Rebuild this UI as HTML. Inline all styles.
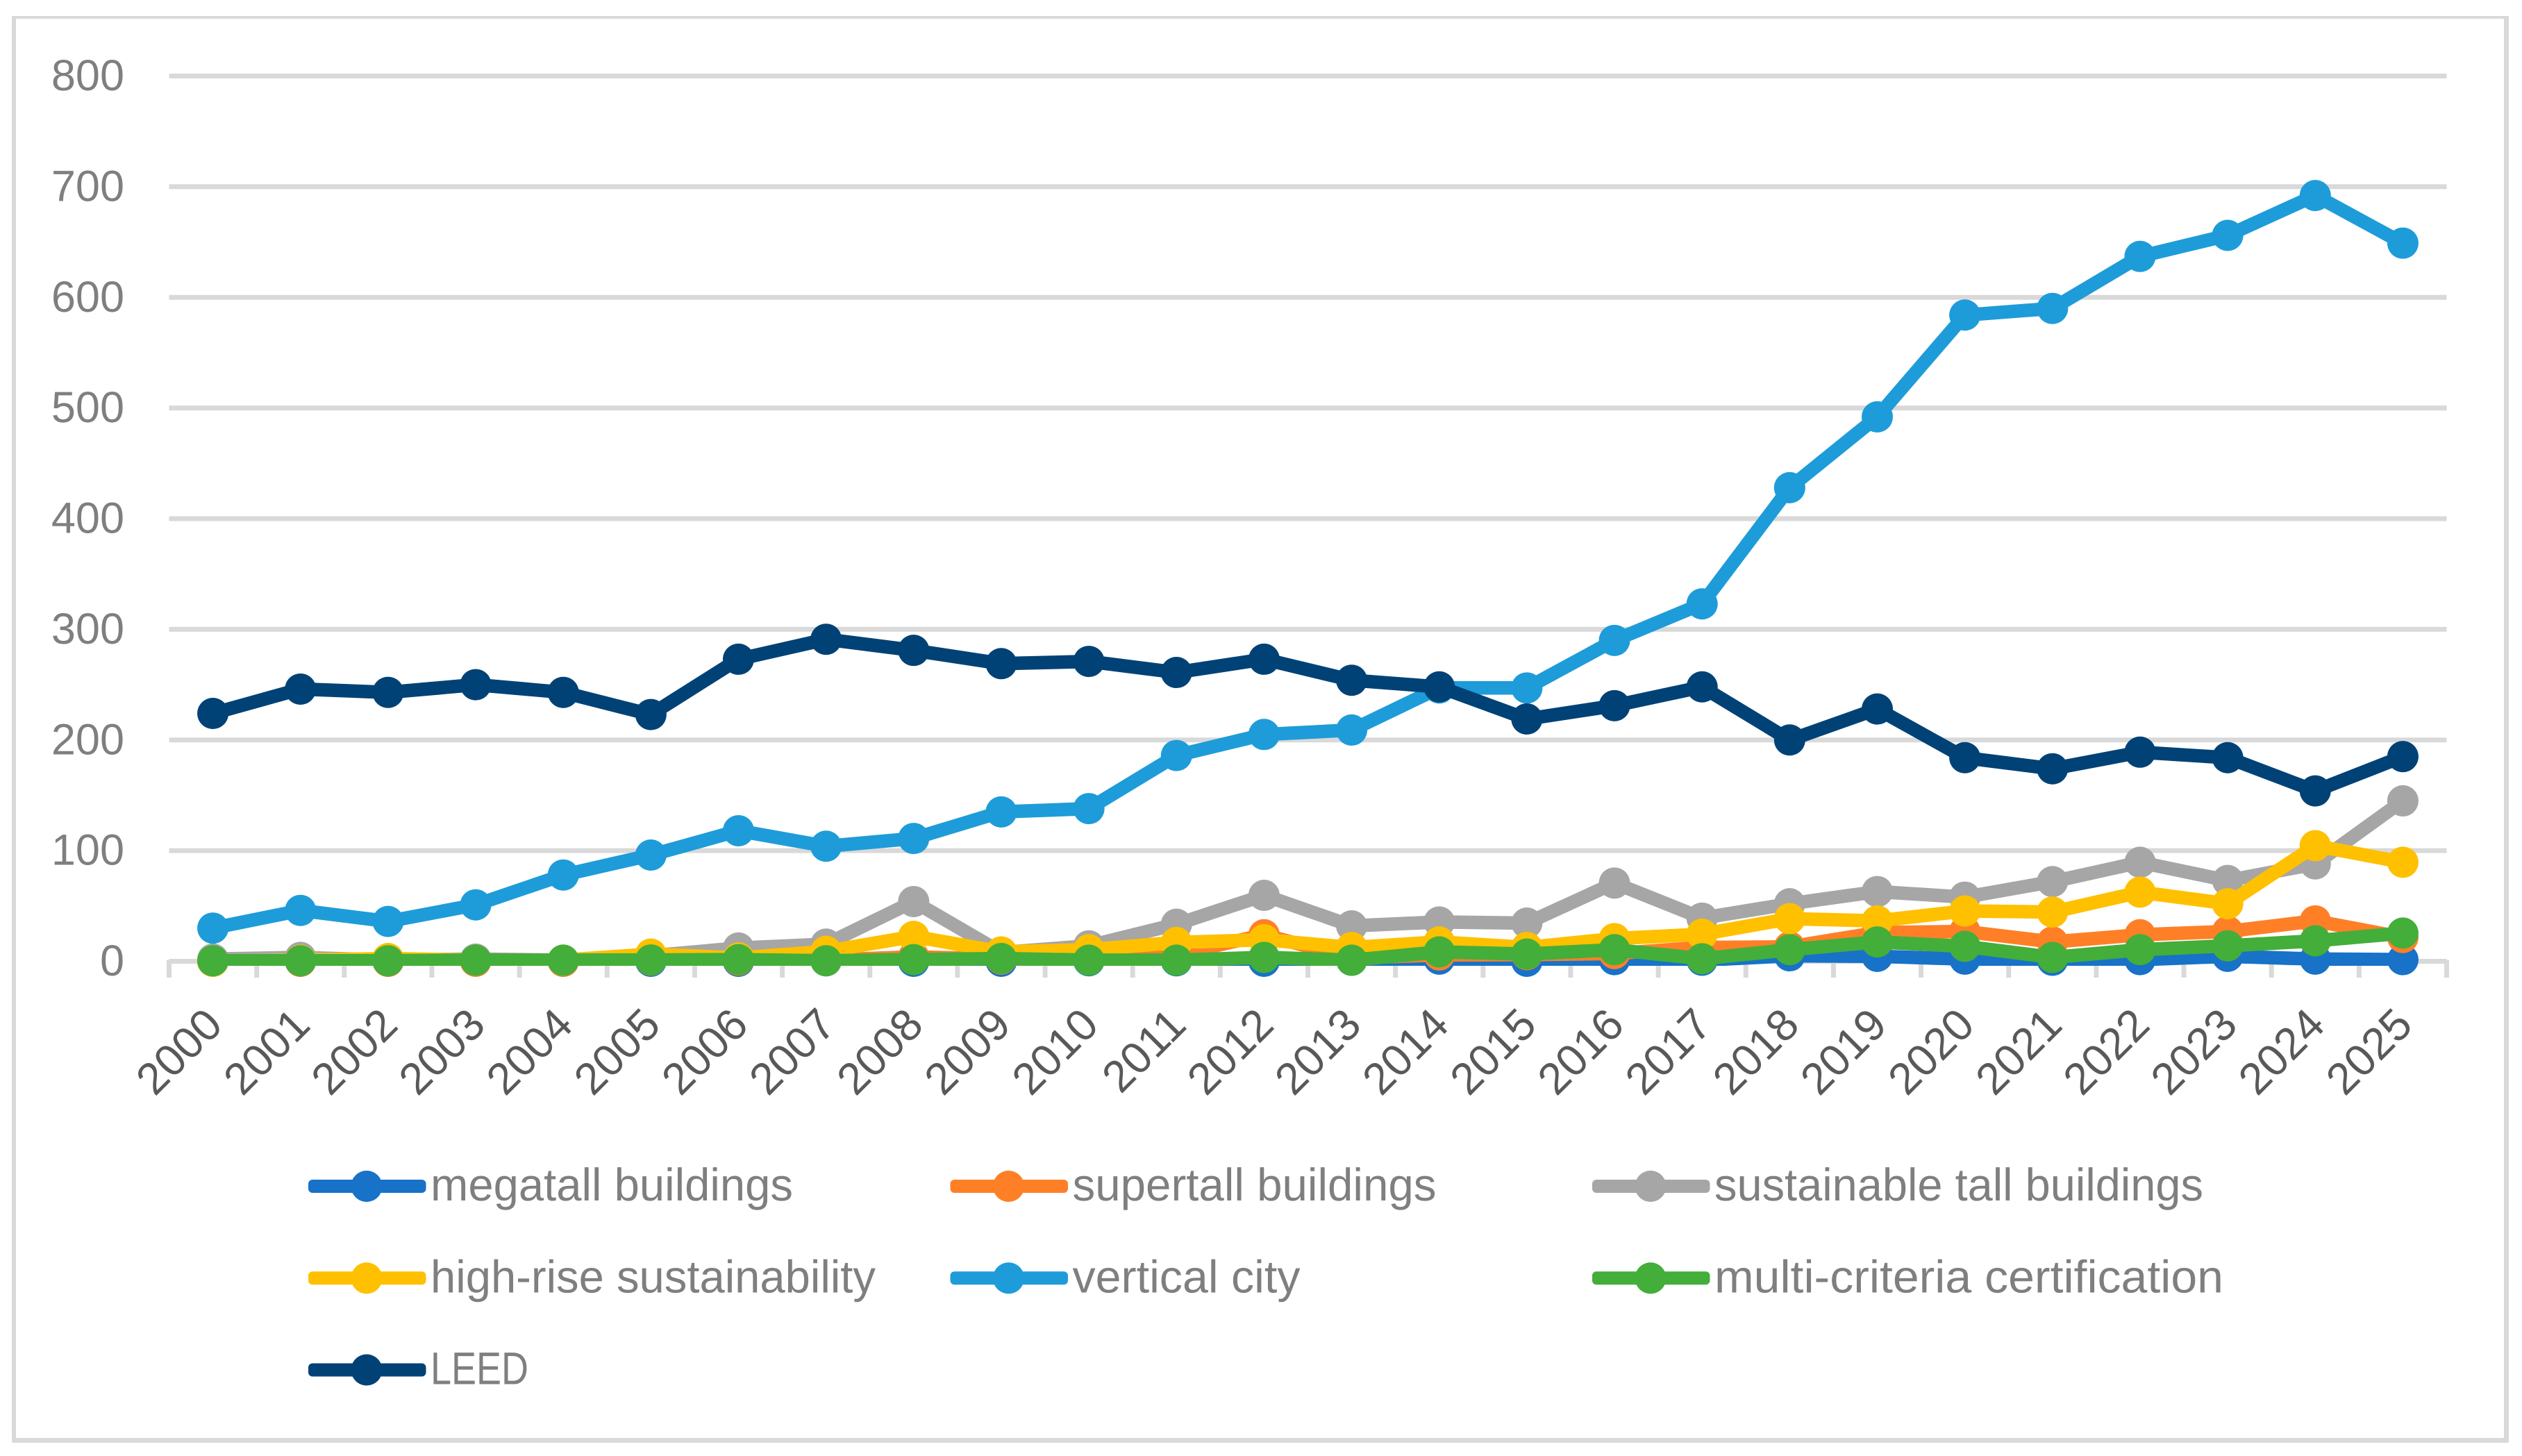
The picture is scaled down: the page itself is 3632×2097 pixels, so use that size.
<!DOCTYPE html>
<html lang="en">
<head>
<meta charset="utf-8">
<title>Keyword trends chart, 2000–2025</title>
<style>
html,body{margin:0;padding:0;background:#fff;}
body{width:3632px;height:2097px;overflow:hidden;}
svg{display:block;font-family:"Liberation Sans",sans-serif;text-rendering:geometricPrecision;}
</style>
</head>
<body>
<svg id="chart" xmlns="http://www.w3.org/2000/svg" width="3632" height="2097" viewBox="0 0 3632 2097">
  <defs><clipPath id="plot-clip"><rect x="0" y="0" width="3632" height="1391"/></clipPath></defs>
  <rect x="0" y="0" width="3632" height="2097" fill="#ffffff"/>
  <rect x="17" y="23" width="3596" height="4" fill="#d9d9d9"/>
  <rect x="17" y="23" width="6" height="2054" fill="#d9d9d9"/>
  <rect x="3606" y="23" width="7" height="2054" fill="#d9d9d9"/>
  <rect x="18" y="2071" width="3594" height="7" fill="#d9d9d9"/>
</svg>
<script>
const categories = ['2000','2001','2002','2003','2004','2005','2006','2007','2008','2009','2010','2011','2012','2013','2014','2015','2016','2017','2018','2019','2020','2021','2022','2023','2024','2025'];
const yTicks = [0,100,200,300,400,500,600,700,800];
const megatall = [0,0,0,0.5,0,0,0,0.5,0,0,0.5,0.5,0,1,2,0,1.5,1,5,4.5,2,1,1.5,4.5,2,1.5];
const supertall = [0,0,0,0,0,1,1,1,4,2,2,6,24,3,5.7,6,7,12.5,13,26,27,17.5,24,27,36.5,21.5];
const sustainableTall = [2,3.5,1,2,1,5,12,15.5,54,8,14,33.5,59.6,32,35.5,34.5,70.7,39,52,63,58,72,89.5,73,88,145];
const highRise = [0,1,2.5,1,1,6.5,3,9,22.5,8.5,10.5,17,19.5,12.5,17.5,12.5,20.5,24.5,38.5,36.5,45.5,44.5,62.5,52,104.5,89.5];
const verticalCity = [30,46,36,51,78,96,118,104,111,135,138,186,205,209,247,247,290,323,428,492,584,590,637,656,692,649];
const multiCriteria = [0.5,0.5,0.5,1,1,1.2,1.5,0.5,1.5,2.5,1,1,3.5,1,8.5,6.5,10.5,2.3,10.5,17.5,13.5,3.5,10.5,14,18.5,25.5];
const leed = [224,246,243,250,243,223,273,291,281,269,271,261,273,254,248,219,231,248,200,228,184,174,189,184,154,185];

const seriesList = [
  {name:'megatall buildings', slug:'megatall-buildings', values:megatall, color:'#1772c8', lx:444, row:0, textLen:522},
  {name:'supertall buildings', slug:'supertall-buildings', values:supertall, color:'#ff7f27', lx:1368.5, row:0, textLen:524},
  {name:'sustainable tall buildings', slug:'sustainable-tall-buildings', values:sustainableTall, color:'#a6a6a6', lx:2293, row:0, textLen:704},
  {name:'high-rise sustainability', slug:'high-rise-sustainability', values:highRise, color:'#ffc000', lx:444, row:1, textLen:641},
  {name:'vertical city', slug:'vertical-city', values:verticalCity, color:'#1e9cd9', lx:1368.5, row:1, textLen:328},
  {name:'multi-criteria certification', slug:'multi-criteria-certification', values:multiCriteria, color:'#43ae3a', lx:2293, row:1, textLen:733},
  {name:'LEED', slug:'leed', values:leed, color:'#004276', lx:444, row:2, textLen:141}
];

const svg = document.getElementById('chart');
const NS = 'http://www.w3.org/2000/svg';
const plotLeft = 243.5, plotRight = 3523.5, zeroY = 1384.5, topY = 109.5, yMax = 800;
const band = (plotRight - plotLeft) / categories.length;
const xScale = i => plotLeft + band * (i + 0.5);
const yScale = v => zeroY - (zeroY - topY) * v / yMax;

function make(tag, attrs, text) {
  const e = document.createElementNS(NS, tag);
  for (const k in attrs) e.setAttribute(k, attrs[k]);
  if (text !== undefined) e.textContent = text;
  svg.appendChild(e);
  return e;
}

/* gridlines and y tick labels */
yTicks.forEach(t => {
  const line = make('line', {x1:plotLeft, x2:plotRight, y1:yScale(t), y2:yScale(t), stroke:'#d9d9d9', 'stroke-width':7});
  
  
  const label = make('text', {x:179, y:yScale(t) + 20.5, 'text-anchor':'end', 'font-size':63, fill:'#7f7f7f'}, String(t));
  
  
});

/* x-axis tick marks */
for (let i = 0; i <= categories.length; i++) {
  const x = plotLeft + band * i;
  const tick = make('line', {x1:x, x2:x, y1:zeroY - 2, y2:1408, stroke:'#d9d9d9', 'stroke-width':7});
  
  
}

/* x-axis labels */
categories.forEach((c, i) => {
  const px = xScale(i) + 17, py = 1479.6;
  const label = make('text', {x:px, y:py, 'text-anchor':'end', 'font-size':64, fill:'#595959', transform:'rotate(-45 ' + px + ' ' + py + ')'}, c);
  
  
});

/* series lines and markers */
seriesList.forEach(s => {
  const pts = s.values.map((v, i) => xScale(i).toFixed(1) + ',' + yScale(v).toFixed(1)).join(' ');
  const line = make('polyline', {points:pts, fill:'none', stroke:s.color, 'stroke-width':19.5, 'stroke-linejoin':'round', 'stroke-linecap':'butt', 'clip-path':'url(#plot-clip)'});
  
  
  s.values.forEach((v, i) => {
    const dot = make('circle', {cx:xScale(i), cy:yScale(v), r:22.5, fill:s.color});
    
    
  });
});

/* legend */
const legendRowCenters = [1708.5, 1840.8, 1973];
seriesList.forEach(s => {
  const cy = legendRowCenters[s.row];
  const swatch = make('rect', {x:s.lx, y:cy - 9.5, width:169.5, height:19, rx:6, ry:6, fill:s.color});
  
  
  const mark = make('circle', {cx:s.lx + 84, cy:cy, r:22.5, fill:s.color});
  
  
  const text = make('text', {x:s.lx + 176, y:cy + 20.5, 'font-size':66, fill:'#7f7f7f', textLength:s.textLen, lengthAdjust:'spacingAndGlyphs'}, s.name);
  
  
});
</script>
</body>
</html>
